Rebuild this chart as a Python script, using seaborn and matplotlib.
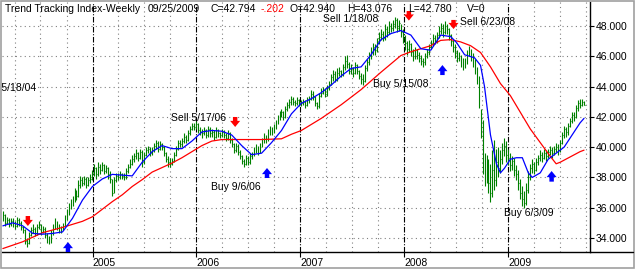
import numpy as np
import pandas as pd
import matplotlib
matplotlib.use("Agg")
import matplotlib.pyplot as plt
import matplotlib.dates as mdates
from matplotlib.lines import Line2D
from matplotlib.patches import Rectangle
import seaborn as sns

# ---------------- data ----------------
first_week = "2004-02-20"

close = [
    35.5, 35.0, 35.2, 34.9, 35.1,   35.0, 34.8, 35.2, 35.0, 34.7,
    34.5, 33.8, 33.7, 34.2, 34.5,   34.6, 34.3, 34.7, 34.9, 34.4,
    34.6, 34.2, 33.9, 33.8, 34.3,   34.7, 35.0, 34.8, 34.5, 34.6,
    34.8, 35.3, 35.6, 36.0, 36.3,   36.5, 37.0, 36.8, 37.5, 37.8,
    37.6, 37.9, 37.5, 37.8, 37.9,   38.3, 38.6, 38.2, 38.7, 38.5,
    38.8, 38.4, 38.6, 38.2, 37.9,   37.0, 37.8, 38.1, 38.0, 38.2,
    38.1, 38.0, 38.4, 38.7, 38.9,   39.2, 39.4, 39.6, 39.3, 39.7,
    39.0, 39.5, 39.8, 39.9, 39.6,   39.8, 40.1, 40.3, 39.9, 40.2,
    40.0, 39.6, 39.2, 39.0, 38.9,   39.1, 39.5, 39.9, 40.3, 40.2,
    40.4, 40.7, 40.5, 40.9, 41.2,   41.4, 41.3, 41.5, 41.1, 41.0,
    40.9, 41.1, 40.8, 41.2, 40.9,   41.0, 40.7, 41.1, 40.9, 40.8,
    41.0, 40.8, 40.6, 40.9, 40.5,   40.2, 39.8, 40.1, 39.7, 39.4,
    39.1, 38.9, 39.3, 39.0, 39.4,   39.5, 39.8, 40.0, 39.7, 40.1,
    40.4, 40.7, 40.5, 41.0, 41.2,   41.0, 41.3, 41.6, 41.9, 42.2,
    42.3, 42.0, 42.5, 42.8, 43.0,   43.2, 43.0, 42.9, 43.1, 42.9,
    42.9, 43.0, 42.8, 43.1, 43.2,   43.5, 43.3, 42.9, 42.7, 43.4,
    43.6, 43.8, 43.5, 43.9, 44.2,   44.6, 44.8, 44.5, 44.9, 45.0,
    44.8, 45.3, 45.7, 45.5, 45.0,   45.2, 44.9, 45.4, 45.0, 44.7,
    44.5, 44.4, 45.2, 45.6, 46.0,   46.3, 46.6, 46.4, 47.0, 47.3,
    47.5, 47.2, 47.8, 47.6, 48.0,   47.9, 48.1, 48.4, 47.9, 48.2,
    47.6, 47.2, 46.9, 46.5, 46.8,   46.3, 46.0, 46.4, 46.1, 45.9,
    45.7, 45.6, 46.0, 46.3, 46.6,   46.9, 47.2, 47.0, 47.4, 47.7,
    47.9, 47.6, 48.0, 47.8, 47.4,   47.0, 46.6, 46.2, 45.9, 46.0,
    45.6, 45.4, 45.7, 46.2, 46.4,   46.0, 45.6, 45.2, 44.6, 43.5,
    41.0, 39.0, 38.2, 38.8, 37.6,   37.0, 38.5, 37.8, 39.0, 38.6,
    39.2, 39.8, 40.1, 39.5, 39.3,   38.8, 39.1, 38.5, 38.2, 37.6,
    37.0, 36.6, 36.3, 37.2, 38.0,   38.6, 38.9, 38.5, 39.0, 39.3,
    39.5, 39.3, 39.6, 39.4, 39.7,   39.8, 39.6, 39.9, 40.0, 39.8,
    40.3, 40.8, 41.2, 41.0, 41.4,   41.7, 42.1, 42.0, 42.6, 42.9,
    42.8, 42.996, 42.794,
]
high = [
    35.8, 35.6, 35.4, 35.3, 35.3,   35.3, 35.1, 35.4, 35.3, 35.1,
    34.8, 34.6, 34.0, 34.4, 34.7,   34.9, 34.7, 34.9, 35.1, 34.9,
    34.8, 34.7, 34.3, 34.1, 34.5,   34.9, 35.3, 35.1, 34.9, 34.8,
    35.0, 35.5, 35.9, 36.3, 36.6,   36.8, 37.3, 37.2, 37.8, 38.1,
    38.0, 38.1, 38.0, 38.0, 38.2,   38.5, 38.9, 38.7, 39.0, 38.9,
    39.0, 38.9, 38.8, 38.7, 38.4,   37.9, 38.0, 38.3, 38.3, 38.4,
    38.3, 38.3, 38.6, 38.9, 39.2,   39.5, 39.6, 39.9, 39.7, 39.9,
    39.8, 39.7, 40.0, 40.1, 40.0,   40.0, 40.3, 40.5, 40.4, 40.4,
    40.3, 40.1, 39.7, 39.4, 39.3,   39.3, 39.7, 40.1, 40.5, 40.5,
    40.6, 40.9, 40.8, 41.1, 41.4,   41.6, 41.6, 41.7, 41.6, 41.3,
    41.2, 41.3, 41.2, 41.4, 41.3,   41.2, 41.1, 41.3, 41.2, 41.0,
    41.2, 41.1, 40.9, 41.1, 41.0,   40.6, 40.3, 40.3, 40.2, 39.8,
    39.5, 39.2, 39.5, 39.4, 39.6,   39.7, 40.0, 40.2, 40.1, 40.3,
    40.6, 40.9, 40.8, 41.2, 41.4,   41.3, 41.5, 41.8, 42.1, 42.4,
    42.5, 42.4, 42.7, 43.0, 43.2,   43.4, 43.3, 43.1, 43.3, 43.2,
    43.1, 43.2, 43.1, 43.3, 43.4,   43.8, 43.7, 43.4, 43.0, 43.6,
    43.9, 44.0, 43.9, 44.1, 44.4,   44.8, 45.1, 45.0, 45.2, 45.3,
    45.1, 45.5, 46.0, 46.1, 45.6,   45.5, 45.3, 45.6, 45.5, 45.1,
    44.9, 44.8, 45.4, 45.8, 46.3,   46.6, 46.9, 46.8, 47.2, 47.6,
    47.8, 47.7, 48.1, 48.0, 48.3,   48.2, 48.4, 48.6, 48.5, 48.4,
    48.1, 47.8, 47.4, 47.0, 47.1,   46.9, 46.5, 46.6, 46.5, 46.3,
    46.1, 45.9, 46.2, 46.5, 46.8,   47.1, 47.5, 47.4, 47.6, 48.0,
    48.2, 48.1, 48.3, 48.1, 47.9,   47.5, 47.1, 46.8, 46.4, 46.3,
    46.1, 45.9, 45.9, 46.4, 46.7,   46.5, 46.2, 45.8, 45.3, 44.7,
    42.5, 41.8, 39.6, 39.5, 39.2,   38.9, 39.8, 40.5, 39.9, 40.0,
    39.8, 40.3, 40.6, 40.4, 39.9,   39.6, 39.4, 39.3, 38.8, 38.5,
    37.9, 37.4, 37.1, 37.6, 38.4,   38.9, 39.2, 39.0, 39.3, 39.5,
    39.8, 39.7, 39.9, 39.8, 39.9,   40.1, 40.0, 40.1, 40.3, 40.2,
    40.5, 41.0, 41.4, 41.3, 41.6,   41.9, 42.3, 42.3, 42.8, 43.1,
    43.2, 43.2, 43.076,
]
low = [
    35.1, 34.8, 34.9, 34.7, 34.8,   34.7, 34.6, 34.7, 34.8, 34.5,
    34.3, 33.6, 33.4, 33.6, 34.1,   34.3, 34.1, 34.2, 34.6, 34.2,
    34.3, 34.0, 33.7, 33.6, 33.7,   34.2, 34.6, 34.5, 34.3, 34.3,
    34.5, 34.8, 35.2, 35.5, 35.9,   36.1, 36.4, 36.5, 36.7, 37.3,
    37.4, 37.5, 37.3, 37.4, 37.6,   37.8, 38.1, 37.9, 38.1, 38.2,
    38.4, 38.2, 38.3, 37.9, 37.6,   36.8, 37.0, 37.7, 37.8, 37.9,
    37.9, 37.8, 37.9, 38.3, 38.6,   38.8, 39.0, 39.2, 39.1, 39.2,
    38.7, 38.9, 39.4, 39.6, 39.4,   39.5, 39.7, 39.9, 39.7, 39.8,
    39.8, 39.4, 39.0, 38.7, 38.7,   38.8, 39.0, 39.4, 39.8, 40.0,
    40.0, 40.3, 40.3, 40.4, 40.8,   41.1, 41.1, 41.2, 40.9, 40.8,
    40.6, 40.8, 40.6, 40.7, 40.7,   40.7, 40.5, 40.6, 40.7, 40.6,
    40.7, 40.6, 40.4, 40.5, 40.3,   40.0, 39.6, 39.7, 39.5, 39.2,
    38.9, 38.7, 38.8, 38.8, 38.9,   39.2, 39.4, 39.6, 39.5, 39.6,
    40.0, 40.3, 40.3, 40.4, 40.8,   40.8, 40.9, 41.2, 41.5, 41.8,
    42.0, 41.8, 41.9, 42.4, 42.6,   42.8, 42.8, 42.7, 42.8, 42.7,
    42.7, 42.8, 42.6, 42.7, 42.9,   43.1, 43.1, 42.7, 42.5, 42.6,
    43.3, 43.5, 43.3, 43.4, 43.8,   44.1, 44.4, 44.3, 44.4, 44.7,
    44.6, 44.7, 45.1, 45.2, 44.8,   44.8, 44.6, 44.8, 44.8, 44.5,
    44.2, 44.1, 44.3, 45.0, 45.4,   45.8, 46.1, 46.1, 46.3, 46.8,
    47.1, 47.0, 47.1, 47.3, 47.5,   47.6, 47.7, 47.9, 47.6, 47.7,
    47.3, 46.9, 46.4, 46.1, 46.3,   46.0, 45.7, 45.8, 45.8, 45.6,
    45.4, 45.3, 45.4, 45.9, 46.1,   46.5, 46.7, 46.8, 46.9, 47.2,
    47.5, 47.3, 47.5, 47.5, 47.1,   46.7, 46.3, 45.9, 45.6, 45.7,
    45.3, 45.1, 45.2, 45.5, 46.0,   45.7, 45.3, 44.8, 44.2, 42.6,
    40.6, 38.2, 37.4, 37.6, 37.0,   36.4, 36.7, 37.2, 37.4, 38.0,
    38.3, 38.9, 39.4, 39.0, 38.8,   38.4, 38.5, 38.1, 37.8, 37.2,
    36.6, 36.1, 36.0, 36.2, 37.0,   37.8, 38.3, 38.2, 38.4, 38.8,
    39.1, 39.0, 39.2, 39.1, 39.3,   39.5, 39.3, 39.5, 39.7, 39.5,
    39.7, 40.2, 40.6, 40.7, 40.8,   41.3, 41.6, 41.7, 41.9, 42.4,
    42.6, 42.7, 42.78,
]
last_open = 42.940
last_volume = 0

# short (blue) and long (red) moving averages, read at these week numbers
fast_ma_week = [0, 5, 10, 15, 20, 25, 30, 35, 40, 45, 50, 55, 60, 65, 70, 75,
                80, 85, 90, 95, 100, 105, 110, 115, 120, 125, 130, 135, 140,
                145, 150, 155, 160, 165, 170, 175, 180, 185, 190, 195, 200,
                205, 210, 215, 220, 225, 228, 232, 237, 240, 242, 245, 248,
                250, 252, 255, 258, 261, 264, 266, 270, 274, 278, 282, 286,
                290, 292]
fast_ma = [34.8, 35.0, 34.8, 34.3, 34.25, 34.3, 34.4, 35.3, 36.5, 37.4, 37.9,
           38.2, 38.15, 38.1, 39.0, 39.7, 40.1, 39.9, 39.9, 40.4, 41.0, 41.1,
           41.05, 40.8, 40.1, 39.5, 39.6, 40.3, 41.1, 42.2, 42.9, 43.2, 43.6,
           44.1, 44.7, 45.2, 45.3, 46.1, 47.1, 47.5, 47.7, 47.4, 46.5, 46.4,
           47.4, 47.3, 46.9, 46.1, 45.9, 45.4, 44.0, 40.8, 38.9, 38.3, 38.6,
           39.2, 39.3, 39.3, 38.3, 38.0, 38.3, 39.2, 39.6, 40.0, 40.8, 41.6,
           41.9]
slow_ma_week = [0, 10, 20, 30, 40, 45, 50, 55, 60, 65, 70, 75, 80, 85, 90, 95,
                100, 105, 110, 120, 130, 140, 145, 150, 160, 170, 180, 190,
                200, 205, 210, 215, 220, 225, 230, 235, 240, 245, 250, 255,
                260, 265, 270, 275, 278, 280, 285, 290, 292]
slow_ma = [33.3, 33.75, 34.35, 34.7, 35.1, 35.4, 35.9, 36.4, 36.85, 37.4,
           37.85, 38.35, 38.65, 38.95, 39.3, 39.7, 40.1, 40.4, 40.5, 40.5,
           40.5, 40.55, 40.85, 41.1, 41.9, 42.8, 43.8, 44.95, 46.05, 46.3,
           46.5, 46.7, 47.05, 47.1, 46.95, 46.7, 46.25, 45.3, 44.2, 43.4,
           42.3, 41.2, 40.3, 39.4, 38.9, 39.0, 39.35, 39.7, 39.8]

# trading signals
signal_text = ["Sell 5/18/04", "", "Sell 5/17/06", "Buy 9/6/06",
               "Sell 1/18/08", "Buy 5/15/08", "Sell 6/23/08", "Buy 6/3/09"]
signal_date = ["2004-05-18", "2004-10-06", "2006-05-17", "2006-09-06",
               "2008-01-18", "2008-05-15", "2008-06-23", "2009-06-03"]
signal_kind = ["sell", "buy", "sell", "buy", "sell", "buy", "sell", "buy"]

# ---------------- layout / style ----------------
arrow_tip = [34.79, 33.73, 41.33, 38.62, 48.36, 45.42, 47.80, 38.42]
arrow_tail = [35.45, 33.07, 41.99, 37.96, 48.99, 44.76, 48.40, 37.72]
label_y = [43.9, None, 41.92, 37.37, 48.46, 44.17, 48.26, 35.65]
label_dx_px = [8.5, 0, -9, -6, -31, -14, 6.5, 2]
label_ha = ["right", "left", "right", "right", "right", "right", "left", "right"]

W, H = 635, 270
sns.set_theme(style="white")
plt.rcParams["font.family"] = ["Liberation Sans", "DejaVu Sans"]
FS = 7.5
GREEN, BLUE, RED = "#008000", "#0000FF", "#FF0000"
GRID = "#808080"

dates = pd.date_range(first_week, periods=len(close), freq="7D")
bars = pd.DataFrame({"date": dates, "high": high, "low": low, "close": close})
fast_df = pd.DataFrame({"date": dates[fast_ma_week], "value": fast_ma})
slow_df = pd.DataFrame({"date": dates[slow_ma_week], "value": slow_ma})

fig = plt.figure(figsize=(W / 100, H / 100), dpi=100)
fig.patch.set_facecolor("white")
ax = fig.add_axes([2 / W, 18 / H, 588 / W, 250 / H])
ax.set_facecolor("white")

# grid
ax.set_yticks(np.arange(34, 49, 2))
ax.yaxis.set_major_formatter(matplotlib.ticker.FormatStrFormatter("%.3f"))
ax.xaxis.set_major_locator(mdates.YearLocator())
ax.xaxis.set_major_formatter(mdates.DateFormatter("%Y"))
ax.xaxis.set_minor_locator(mdates.MonthLocator(bymonth=[4, 7, 10]))
ax.grid(which="major", axis="y", color=GRID, ls=(0, (1, 3)), lw=0.8)
ax.grid(which="minor", axis="x", color=GRID, ls=(0, (1, 3)), lw=0.8)
ax.grid(which="major", axis="x", color="black", ls=(0, (5, 1.5, 1, 1.5)), lw=0.8)

# price bars (high-low lines with a short close tick)
ax.vlines(bars["date"], bars["low"], bars["high"], color=GREEN, lw=0.8, zorder=3)
ax.hlines(bars["close"], bars["date"], bars["date"] + pd.Timedelta(days=3),
          color=GREEN, lw=0.8, zorder=3)

# moving averages
sns.lineplot(data=slow_df, x="date", y="value", ax=ax, color=RED, lw=0.9, zorder=4)
sns.lineplot(data=fast_df, x="date", y="value", ax=ax, color=BLUE, lw=0.9, zorder=5)

# signals
for txt, d, kind, tip, tail, ly, dx, ha in zip(signal_text, signal_date, signal_kind,
                                              arrow_tip, arrow_tail, label_y,
                                              label_dx_px, label_ha):
    d = pd.Timestamp(d)
    col = RED if kind == "sell" else BLUE
    ax.annotate("", xy=(d, tip), xytext=(d, tail),
                arrowprops=dict(arrowstyle="simple,head_length=0.55,head_width=0.9,tail_width=0.4",
                                color=col, lw=0, shrinkA=0, shrinkB=0, mutation_scale=8),
                zorder=6, annotation_clip=False)
    if txt:
        ax.annotate(txt, xy=(d, ly), xytext=(dx * 0.72, 0), textcoords="offset points",
                    ha=ha, va="center", fontsize=FS, color="black", zorder=7,
                    annotation_clip=False)

ax.set_xlim(pd.Timestamp("2004-02-17"), pd.Timestamp("2009-10-16"))
ax.set_ylim(33.073, 49.585)
ax.set_xlabel("")
ax.set_ylabel("")

# axes styling
for s in ["left", "top"]:
    ax.spines[s].set_visible(False)
for s in ["right", "bottom"]:
    ax.spines[s].set_visible(True)
    ax.spines[s].set_color("black")
    ax.spines[s].set_linewidth(1.0)
ax.yaxis.tick_right()
ax.tick_params(axis="y", which="major", direction="out", length=3.2, width=0.8,
               pad=0.8, labelsize=FS, colors="black", left=False, right=True)
ax.tick_params(axis="x", which="major", direction="out", length=3.6, width=0.8,
               pad=0.5, labelsize=FS, colors="black", bottom=True)
ax.tick_params(axis="x", which="minor", length=0)
for lab in ax.get_xticklabels():
    lab.set_ha("left")

# extend the baseline under the price scale and draw the outer frame
fig.add_artist(Line2D([590 / W, 633 / W], [18 / H, 18 / H], color="black", lw=1.0))
fig.add_artist(Rectangle((0.5 / W, 2 / H), 633 / W, 267.5 / H, fill=False,
                         edgecolor="#a0a0a0", lw=1.2, transform=fig.transFigure))

# header line
chg = close[-1] - close[-2]
chg_txt = f"{chg:.3f}".replace("0.", ".")
header = [("Trend Tracking Index-Weekly", 5, "black"),
          (dates[-1].strftime("%m/%d/%Y"), 148, "black"),
          (f"C={close[-1]:.3f}", 210, "black"),
          (chg_txt, 261, RED),
          (f"O={last_open:.3f}", 289, "black"),
          (f"H={high[-1]:.3f}", 347, "black"),
          (f"L={low[-1]:.3f}", 408, "black"),
          (f"V={last_volume}", 467, "black")]
for txt, px, col in header:
    fig.text(px / W, 1 - 8.5 / H, txt, ha="left", va="center", fontsize=FS, color=col)

fig.savefig("out.png", dpi=100, facecolor="white")
